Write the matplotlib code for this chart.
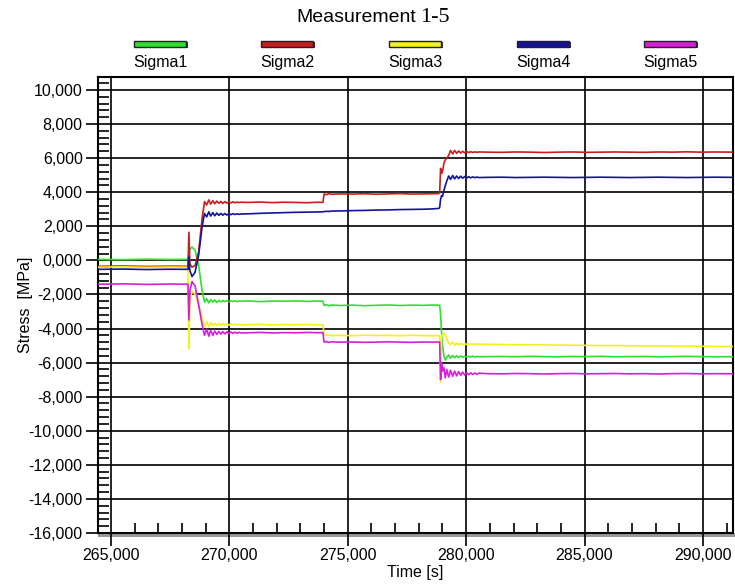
import matplotlib
matplotlib.use("Agg")
import matplotlib.pyplot as plt
from matplotlib.ticker import MultipleLocator, FuncFormatter
from matplotlib.patches import Rectangle

plt.rcParams['font.family'] = ['Liberation Sans', 'DejaVu Sans']

title_main = "Measurement"
title_num = "1-5"
xlabel = "Time [s]"
ylabel = "Stress  [MPa]"
series_names = ["Sigma1", "Sigma2", "Sigma3", "Sigma4", "Sigma5"]
series_colors = ["#2ee02e", "#c81e1e", "#f2f01e", "#14149c", "#d91ed9"]

time_s = [
    264450, 265500, 266500, 267500, 268250,
    268290, 268330, 268420, 268550, 268700, 268850, 268950,
    269040, 269130, 269210, 269300, 269380, 269470, 269550, 269640, 269720,
    269810, 269890, 269980, 270060, 270150, 270230, 270320, 270400, 270490,
    270800, 271300, 271800, 272300, 272800, 273300, 273700, 273950,
    274000, 274100, 274200, 274300,
    274700, 275200, 275700, 276200, 276700, 277200, 277700, 278200, 278600, 278850,
    278880, 278920, 278960, 279000, 279060, 279120, 279180,
    279260, 279340, 279430, 279510, 279600, 279680, 279770, 279850,
    279940, 280020, 280110, 280190, 280280, 280360, 280450, 280530,
    280900, 281500, 282100, 282700, 283300, 283900, 284500, 285100, 285700,
    286300, 286900, 287500, 288100, 288700, 289300, 289900, 290500, 291270,
]

sigma1 = [
    60, 40, 70, 50, 60,
    400, 650, 780, 600, -300, -1800, -2450,
    -2250, -2500, -2300, -2450, -2320, -2480, -2350, -2440, -2360,
    -2420, -2370, -2430, -2380, -2410, -2370, -2420, -2390, -2400,
    -2380, -2420, -2390, -2400, -2380, -2410, -2390, -2400,
    -2650, -2600, -2680, -2620,
    -2650, -2630, -2660, -2640, -2620, -2650, -2630, -2640, -2620, -2630,
    -2630, -3200, -4200, -5000, -5600, -5850, -5700,
    -5550, -5750, -5580, -5720, -5600, -5700, -5610, -5690,
    -5620, -5680, -5630, -5670, -5620, -5680, -5640, -5660,
    -5650, -5640, -5660, -5630, -5650, -5660, -5640, -5650, -5630,
    -5660, -5650, -5640, -5660, -5650, -5630, -5650, -5660, -5650,
]

sigma2 = [
    -350, -330, -360, -340, -350,
    1650, -200, -400, -300, 500, 2500, 3450,
    3250, 3550, 3300, 3500, 3320, 3480, 3350, 3460, 3340,
    3450, 3360, 3430, 3370, 3440, 3380, 3420, 3390, 3410,
    3400, 3420, 3390, 3410, 3400, 3380, 3410, 3400,
    3900, 3850, 3920, 3880,
    3900, 3890, 3910, 3880, 3900, 3920, 3890, 3900, 3910, 3920,
    3950, 5400, 5100, 5200, 5700, 5900, 6000,
    6150, 6450, 6250, 6450, 6280, 6420, 6300, 6400,
    6310, 6390, 6320, 6380, 6330, 6370, 6340, 6360,
    6350, 6340, 6360, 6350, 6330, 6350, 6360, 6340, 6350,
    6360, 6350, 6340, 6360, 6350, 6370, 6350, 6360, 6350,
]

sigma3 = [
    -400, -380, -410, -390, -400,
    -5200, -2500, -1800, -2000, -2600, -3400, -3900,
    -3600, -3900, -3650, -3850, -3680, -3830, -3700, -3820, -3710,
    -3810, -3720, -3800, -3730, -3790, -3740, -3800, -3750, -3780,
    -3780, -3760, -3790, -3770, -3780, -3760, -3790, -3780,
    -4350, -4400, -4370, -4410,
    -4400, -4420, -4390, -4410, -4400, -4420, -4400, -4410, -4420, -4430,
    -4450, -7150, -4500, -4350, -4300, -4400, -4600,
    -4850, -4950, -4800, -4980, -4850, -4960, -4870, -4950,
    -4880, -4940, -4890, -4930, -4900, -4930, -4910, -4920,
    -4920, -4940, -4950, -4960, -4960, -4970, -4980, -4990, -5000,
    -5000, -5010, -5020, -5020, -5030, -5040, -5040, -5050, -5060,
]

sigma4 = [
    -530, -510, -540, -520, -530,
    200, -600, -950, -700, 300, 2000, 2750,
    2550, 2850, 2600, 2800, 2620, 2780, 2640, 2760, 2650,
    2750, 2660, 2740, 2680, 2740, 2690, 2730, 2700, 2720,
    2730, 2760, 2780, 2800, 2820, 2830, 2840, 2850,
    2860, 2880, 2870, 2890,
    2900, 2920, 2930, 2950, 2960, 2980, 2990, 3000, 3020, 3050,
    3100, 3600, 3800, 3750, 4100, 4400, 4650,
    4950, 4750, 4980, 4780, 4950, 4800, 4940, 4820,
    4920, 4830, 4910, 4840, 4900, 4850, 4890, 4860,
    4870, 4880, 4860, 4870, 4880, 4870, 4860, 4870, 4880,
    4870, 4860, 4870, 4880, 4870, 4860, 4870, 4880, 4870,
]

sigma5 = [
    -1400, -1380, -1410, -1390, -1400,
    -3500, -1800, -1250, -1500, -2600, -3800, -4400,
    -4050, -4450, -4100, -4400, -4150, -4350, -4170, -4330, -4180,
    -4320, -4190, -4300, -4200, -4290, -4210, -4280, -4220, -4260,
    -4250, -4230, -4260, -4240, -4250, -4230, -4250, -4240,
    -4800, -4760, -4820, -4780,
    -4800, -4790, -4810, -4800, -4780, -4800, -4810, -4790, -4800, -4790,
    -4800, -7000, -6000, -6500, -6300, -6900, -6400,
    -6850, -6450, -6800, -6500, -6780, -6530, -6750, -6560,
    -6730, -6580, -6710, -6600, -6700, -6610, -6690, -6620,
    -6650, -6660, -6640, -6650, -6670, -6650, -6640, -6660, -6650,
    -6640, -6660, -6650, -6670, -6650, -6640, -6660, -6650, -6660,
]

series = [sigma1, sigma2, sigma3, sigma4, sigma5]
for s in series:
    assert len(s) == len(time_s), (len(s), len(time_s))

W, H = 735, 587
fig = plt.figure(figsize=(W / 100, H / 100), dpi=100)
fig.patch.set_facecolor("white")

ax_l, ax_r, ax_t, ax_b = 98, 733, 77, 533
ax = fig.add_axes([ax_l / W, 1 - ax_b / H, (ax_r - ax_l) / W, (ax_b - ax_t) / H])

# drop shadow under the plot frame
fig.add_artist(Rectangle((ax_l / W, 1 - (ax_b + 4) / H), (ax_r - ax_l + 3) / W, 4 / H,
                         transform=fig.transFigure, facecolor="#9a9a9a",
                         edgecolor="none", zorder=0))

for s, c in zip(series, series_colors):
    ax.plot(time_s, s, color=c, lw=1.2, zorder=3)

ax.set_xlim(264450, 291270)
ax.set_ylim(-16000, 10760)

ax.xaxis.set_major_locator(MultipleLocator(5000))
ax.xaxis.set_minor_locator(MultipleLocator(1000))
ax.yaxis.set_major_locator(MultipleLocator(2000))
ax.yaxis.set_minor_locator(MultipleLocator(400))

def yfmt(v, p):
    if abs(v) < 1e-6:
        return "0,000"
    return f"{int(round(v)):,}"

ax.yaxis.set_major_formatter(FuncFormatter(yfmt))
ax.xaxis.set_major_formatter(FuncFormatter(lambda v, p: f"{int(round(v)):,}"))

ax.grid(True, which="major", color="black", lw=1.2, zorder=1)
ax.set_axisbelow(True)
ax.tick_params(axis="both", which="major", direction="out", length=9, width=1.2,
               labelsize=11.5, colors="black", pad=2)
ax.tick_params(axis="y", which="minor", direction="in", length=8, width=1.2)
ax.tick_params(axis="x", which="minor", direction="in", length=7, width=1.2)
for sp in ax.spines.values():
    sp.set_color("black")
    sp.set_linewidth(1.5)

ax.set_xlabel(xlabel, fontsize=11.5, labelpad=1)
ax.set_ylabel(ylabel, fontsize=11.5, labelpad=-3)

# title: sans word with serif number
fig.text(296 / W, 1 - 18 / H, title_main, fontsize=14, ha="left", va="center")
fig.text(420 / W, 1 - 18 / H, title_num, fontsize=16, ha="left", va="center",
         family=["Liberation Serif", "DejaVu Serif"])

# legend
centers = [160, 287, 415, 543, 670]
bw, bh = 52, 6
for name, c, cx in zip(series_names, series_colors, centers):
    x0 = (cx - bw / 2) / W
    y0 = 1 - (44 + bh / 2) / H
    fig.add_artist(Rectangle((x0 + 1.5 / W, y0 - 1.5 / H), bw / W, bh / H,
                             transform=fig.transFigure, facecolor="#333333",
                             edgecolor="none"))
    fig.add_artist(Rectangle((x0, y0), bw / W, bh / H, transform=fig.transFigure,
                             facecolor=c, edgecolor="#222222", lw=1.0))
    fig.text(cx / W, 1 - 63 / H, name, fontsize=11.5, ha="center", va="center")

fig.savefig("out.png", dpi=100)
